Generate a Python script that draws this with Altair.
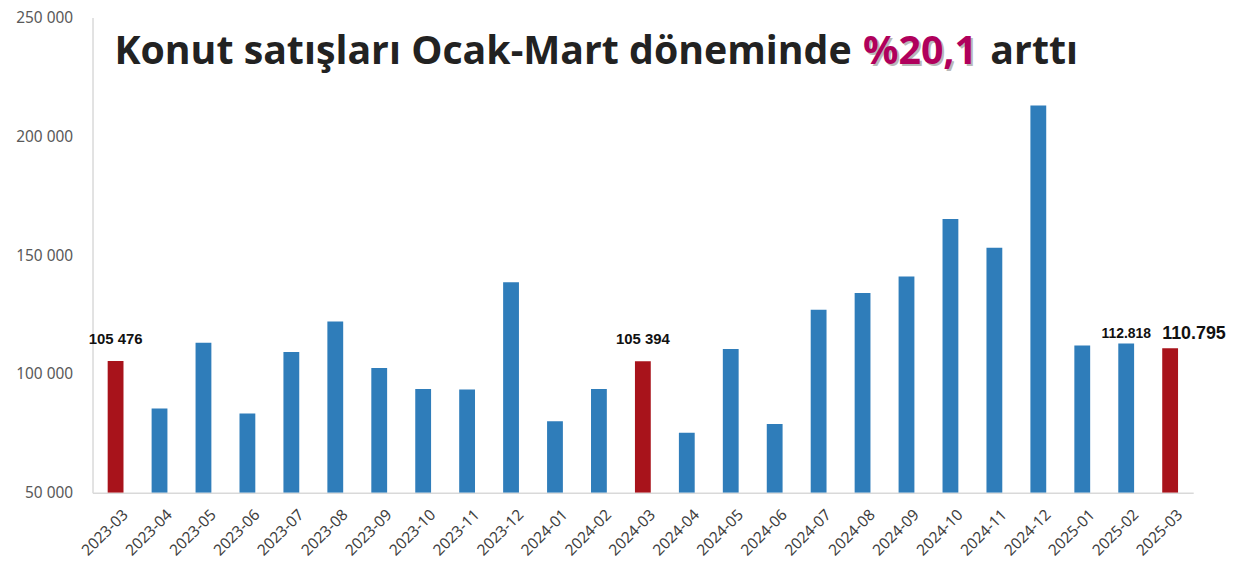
import altair as alt
import pandas as pd

months = ["2023-03", "2023-04", "2023-05", "2023-06", "2023-07", "2023-08", "2023-09",
          "2023-10", "2023-11", "2023-12", "2024-01", "2024-02", "2024-03", "2024-04",
          "2024-05", "2024-06", "2024-07", "2024-08", "2024-09", "2024-10", "2024-11",
          "2024-12", "2025-01", "2025-02", "2025-03"]
sales = [105476, 85500, 113200, 83400, 109300, 122100, 102500,
         93700, 93500, 138600, 80100, 93700, 105394, 75300,
         110500, 79000, 127000, 134100, 141000, 165200, 153100,
         213000, 112000, 112818, 110795]
highlighted = ["2023-03", "2024-03", "2025-03"]

label_a_months = ["2023-03", "2024-03"]
label_a_texts = ["105 476", "105 394"]
label_b_months = ["2025-02"]
label_b_texts = ["112.818"]
label_c_months = ["2025-03"]
label_c_texts = ["110.795"]

title_part1 = "Konut satışları Ocak-Mart döneminde"
title_part2 = "%20,1"
title_part3 = "arttı"

y_ticks = [50000, 100000, 150000, 200000, 250000]

df = pd.DataFrame({
    "month": months,
    "sales": sales,
    "kind": ["highlight" if m in highlighted else "normal" for m in months],
})
val = dict(zip(months, sales))


def label_df(ms, ts):
    return pd.DataFrame({"month": ms, "sales": [val[m] for m in ms], "label": ts})


x_enc = alt.X(
    "month:N", sort=months,
    scale=alt.Scale(domain=months, paddingInner=0.64, paddingOuter=0.345),
    axis=alt.Axis(title=None, labelAngle=-45, labelFontSize=15.5, labelFont="Noto Sans",
                  labelColor="#404040", ticks=False, domainColor="#D9D9D9",
                  domainWidth=1.5, labelPadding=14, labelOffset=5),
)
y_scale = alt.Scale(domain=[50000, 250000], nice=False, zero=False)
y_enc = alt.Y(
    "sales:Q", scale=y_scale,
    axis=alt.Axis(title=None, values=y_ticks,
                  labelExpr="floor(datum.value/1000) + ' 000'",
                  grid=False, ticks=False, domainColor="#D9D9D9", domainWidth=1.5,
                  labelFontSize=15.5, labelColor="#595959", labelPadding=20,
                  labelFont="Noto Sans"),
)

bars = alt.Chart(df).mark_bar(clip=True).encode(
    x=x_enc,
    y=y_enc,
    y2=alt.datum(50000),
    color=alt.Color("kind:N", scale=alt.Scale(domain=["normal", "highlight"],
                                              range=["#2F7DBA", "#A8131B"]), legend=None),
)

lab_a = alt.Chart(label_df(label_a_months, label_a_texts)).mark_text(
    font="Liberation Sans", fontWeight="bold", fontSize=15, color="#111111",
    baseline="alphabetic", dy=-17,
).encode(x=alt.X("month:N", sort=months), y=alt.Y("sales:Q", scale=y_scale), text="label:N")

lab_b = alt.Chart(label_df(label_b_months, label_b_texts)).mark_text(
    font="Liberation Sans", fontWeight="bold", fontSize=14, color="#111111",
    baseline="alphabetic", dy=-6,
).encode(x=alt.X("month:N", sort=months), y=alt.Y("sales:Q", scale=y_scale), text="label:N")

lab_c = alt.Chart(label_df(label_c_months, label_c_texts)).mark_text(
    font="Liberation Sans", fontWeight="bold", fontSize=18, color="#111111",
    baseline="alphabetic", dy=-9, dx=24,
).encode(x=alt.X("month:N", sort=months), y=alt.Y("sales:Q", scale=y_scale), text="label:N")

title_font = "Open Sans"
title_size = 39.5
t1 = alt.Chart(pd.DataFrame({"t": [title_part1]})).mark_text(
    font=title_font, fontWeight="bold", fontSize=title_size, color="#222222",
    align="left", baseline="alphabetic",
).encode(text="t:N", x=alt.value(22), y=alt.value(47))
t2_shadow = alt.Chart(pd.DataFrame({"t": [title_part2]})).mark_text(
    font=title_font, fontWeight="bold", fontSize=title_size, color="#8a8a8a", opacity=0.6,
    align="left", baseline="alphabetic", dx=2, dy=2,
).encode(text="t:N", x=alt.value(775), y=alt.value(47))
t2 = alt.Chart(pd.DataFrame({"t": [title_part2]})).mark_text(
    font=title_font, fontWeight="bold", fontSize=title_size, color="#B0005C",
    align="left", baseline="alphabetic",
).encode(text="t:N", x=alt.value(775), y=alt.value(47))
t3 = alt.Chart(pd.DataFrame({"t": [title_part3]})).mark_text(
    font=title_font, fontWeight="bold", fontSize=title_size, color="#222222",
    align="left", baseline="alphabetic",
).encode(text="t:N", x=alt.value(903), y=alt.value(47))

chart = alt.layer(bars, lab_a, lab_b, lab_c, t1, t2_shadow, t2, t3).properties(
    width=1107, height=478,
    background="white",
    autosize=alt.AutoSizeParams(type="none"),
    padding={"left": 85, "top": 8, "right": 36, "bottom": 70},
).configure_view(stroke="transparent", strokeWidth=0)

chart.save("out.html", embed_options={"renderer": "svg", "actions": False})
